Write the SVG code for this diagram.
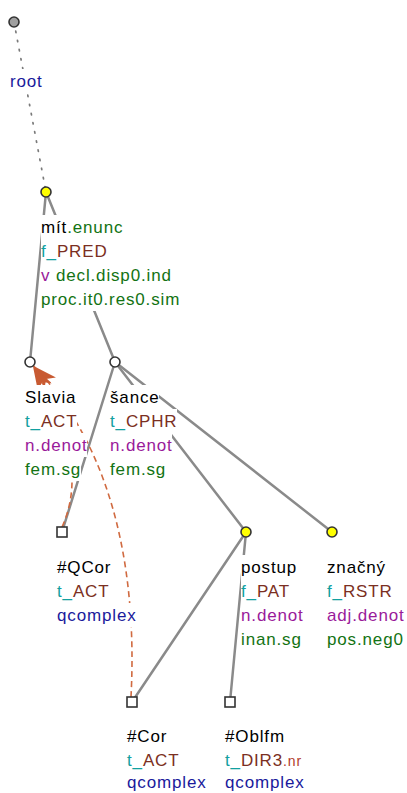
<svg xmlns="http://www.w3.org/2000/svg" width="407" height="793" viewBox="0 0 407 793">
<style>
text{font-family:"Liberation Sans",Arial,sans-serif;font-size:17px;letter-spacing:0.85px;fill:#000}
.bg{fill:#fff}
.edge{stroke:#8a8a8a;stroke-width:2.5;fill:none;stroke-linecap:round}
.dot{stroke:#7a7a7a;stroke-width:1.7;fill:none;stroke-dasharray:1.5 7.8;stroke-linecap:round}
.coref{stroke:#d06a40;stroke-width:1.6;fill:none;stroke-dasharray:6 4;marker-end:url(#ah)}
.nd{stroke:#333;stroke-width:1.6}
.g{fill:#137313}.t{fill:#12a0a0}.b{fill:#7b2f22}.p{fill:#9a1a9a}.n{fill:#1a1a9c}.r{fill:#b23a2a;font-size:14px}
</style>
<defs>
<marker id="ah" viewBox="0 0 24 16" refX="24" refY="8" markerWidth="24" markerHeight="16" markerUnits="userSpaceOnUse" orient="auto">
<path d="M0,0 L24,8 L0,16 L6,8 z" fill="#c85a32"/>
</marker>
</defs>
<g id="connectors">
<line class="dot" x1="14" y1="22" x2="46" y2="192"/>
<line class="edge" x1="46" y1="192" x2="30" y2="362"/>
<line class="edge" x1="46" y1="192" x2="115" y2="362"/>
<line class="edge" x1="115" y1="362" x2="62" y2="532"/>
<line class="edge" x1="115" y1="362" x2="246" y2="532"/>
<line class="edge" x1="115" y1="362" x2="332" y2="532"/>
<line class="edge" x1="246" y1="532" x2="132" y2="702"/>
<line class="edge" x1="246" y1="532" x2="230" y2="702"/>
<path class="coref" d="M131,697 C136,600 125,460 33.5,366"/>
<path class="coref" d="M62,527 C88,470 58,410 33,366.5"/>
</g>
<g id="root">
<rect class="bg" x="10" y="69" width="33" height="24"/>
<text x="10" y="87" class="n">root</text>
<circle cx="14" cy="22" r="5" fill="#a0a0a0" class="nd"/>
</g>
<g id="mit">
<rect class="bg" x="41" y="215" width="82" height="24"/>
<rect class="bg" x="41" y="239" width="66" height="24"/>
<rect class="bg" x="41" y="263" width="130" height="24"/>
<rect class="bg" x="41" y="287" width="138" height="24"/>
<text x="41" y="233">mít<tspan class="g">.enunc</tspan></text>
<text x="41" y="257"><tspan class="t">f_</tspan><tspan class="b">PRED</tspan></text>
<text x="41" y="281"><tspan class="p">v</tspan><tspan class="g"> decl.disp0.ind</tspan></text>
<text x="41" y="305" class="g">proc.it0.res0.sim</text>
<circle cx="46" cy="192" r="5" fill="#ffff00" class="nd"/>
</g>
<g id="slavia">
<rect class="bg" x="25" y="385" width="51" height="24"/>
<rect class="bg" x="25" y="409" width="52" height="24"/>
<rect class="bg" x="25" y="433" width="62" height="24"/>
<rect class="bg" x="25" y="457" width="56" height="24"/>
<text x="25" y="403">Slavia</text>
<text x="25" y="427"><tspan class="t">t_</tspan><tspan class="b">ACT</tspan></text>
<text x="25" y="451" class="p">n.denot</text>
<text x="25" y="475" class="g">fem.sg</text>
<circle cx="30" cy="362" r="5" fill="#fff" class="nd"/>
</g>
<g id="sance">
<rect class="bg" x="110" y="385" width="49" height="24"/>
<rect class="bg" x="110" y="409" width="67" height="24"/>
<rect class="bg" x="110" y="433" width="62" height="24"/>
<rect class="bg" x="110" y="457" width="56" height="24"/>
<text x="110" y="403">šance</text>
<text x="110" y="427"><tspan class="t">t_</tspan><tspan class="b">CPHR</tspan></text>
<text x="110" y="451" class="p">n.denot</text>
<text x="110" y="475" class="g">fem.sg</text>
<circle cx="115" cy="362" r="5" fill="#fff" class="nd"/>
</g>
<g id="qcor">
<rect class="bg" x="57" y="555" width="54" height="24"/>
<rect class="bg" x="57" y="579" width="52" height="24"/>
<rect class="bg" x="57" y="603" width="79" height="24"/>
<text x="57" y="573">#QCor</text>
<text x="57" y="597"><tspan class="t">t_</tspan><tspan class="b">ACT</tspan></text>
<text x="57" y="621" class="n">qcomplex</text>
<rect x="57" y="527" width="10" height="10" fill="#fff" class="nd"/>
</g>
<g id="postup">
<rect class="bg" x="241" y="555" width="56" height="24"/>
<rect class="bg" x="241" y="579" width="51" height="24"/>
<rect class="bg" x="241" y="603" width="62" height="24"/>
<rect class="bg" x="241" y="627" width="60" height="24"/>
<text x="241" y="573">postup</text>
<text x="241" y="597"><tspan class="t">f_</tspan><tspan class="b">PAT</tspan></text>
<text x="241" y="621" class="p">n.denot</text>
<text x="241" y="645" class="g">inan.sg</text>
<circle cx="246" cy="532" r="5" fill="#ffff00" class="nd"/>
</g>
<g id="znacny">
<rect class="bg" x="327" y="555" width="59" height="24"/>
<rect class="bg" x="327" y="579" width="65" height="24"/>
<rect class="bg" x="327" y="603" width="77" height="24"/>
<rect class="bg" x="327" y="627" width="77" height="24"/>
<text x="327" y="573">značný</text>
<text x="327" y="597"><tspan class="t">f_</tspan><tspan class="b">RSTR</tspan></text>
<text x="327" y="621" class="p">adj.denot</text>
<text x="327" y="645" class="g">pos.neg0</text>
<circle cx="332" cy="532" r="5" fill="#ffff00" class="nd"/>
</g>
<g id="cor">
<rect class="bg" x="127" y="724" width="40" height="24"/>
<rect class="bg" x="127" y="748" width="52" height="24"/>
<rect class="bg" x="127" y="772" width="79" height="21"/>
<text x="127" y="742">#Cor</text>
<text x="127" y="766"><tspan class="t">t_</tspan><tspan class="b">ACT</tspan></text>
<text x="127" y="788" class="n">qcomplex</text>
<rect x="127" y="697" width="10" height="10" fill="#fff" class="nd"/>
</g>
<g id="oblfm">
<rect class="bg" x="225" y="724" width="60" height="24"/>
<rect class="bg" x="225" y="748" width="76" height="24"/>
<rect class="bg" x="225" y="772" width="79" height="21"/>
<text x="225" y="742">#Oblfm</text>
<text x="225" y="766"><tspan class="t">t_</tspan><tspan class="b">DIR3</tspan><tspan class="r">.nr</tspan></text>
<text x="225" y="788" class="n">qcomplex</text>
<rect x="225" y="697" width="10" height="10" fill="#fff" class="nd"/>
</g>
</svg>
